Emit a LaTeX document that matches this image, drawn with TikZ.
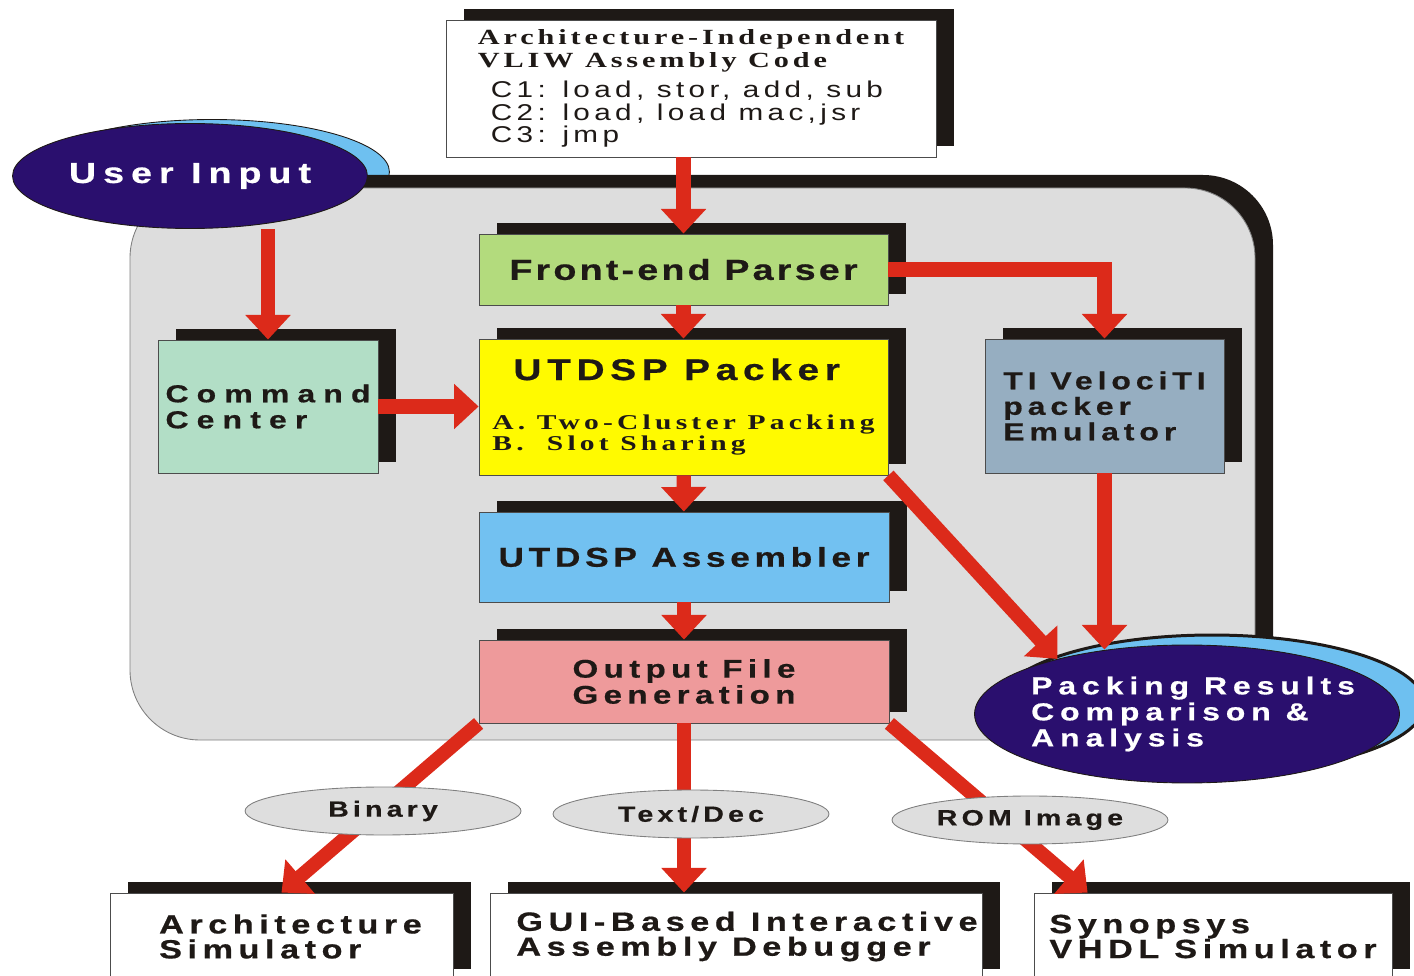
\documentclass[tikz,border=0pt]{standalone}
\usepackage{fontspec}
\usepackage{xcolor}
\usepackage{tikz}
\usetikzlibrary{shapes,arrows.meta,shadows}

\newfontfamily\boxsans[FakeStretch=1.3]{Liberation Sans}
\newfontfamily\boxserif[FakeStretch=1.4]{Liberation Serif}
\newcommand{\widesans}[3]{\boxsans\bfseries\fontsize{#1}{#2}\selectfont\addfontfeatures{LetterSpace=#3,FakeBold=0.6}}
\newcommand{\wideserif}[3]{\boxserif\bfseries\fontsize{#1}{#2}\selectfont\addfontfeatures{LetterSpace=#3}}

\definecolor{arrowred}{RGB}{220,42,26}
\definecolor{inkblack}{RGB}{30,25,22}
\definecolor{areagray}{RGB}{221,221,221}
\definecolor{taggray}{RGB}{222,222,222}
\definecolor{navy}{RGB}{42,15,110}
\definecolor{skyblue}{RGB}{110,192,240}
\definecolor{parsergreen}{RGB}{179,219,125}
\definecolor{packeryellow}{RGB}{255,250,0}
\definecolor{asmblue}{RGB}{114,193,241}
\definecolor{outpink}{RGB}{238,154,155}
\definecolor{cmdmint}{RGB}{178,222,198}
\definecolor{tigray}{RGB}{150,174,193}

\tikzstyle{box} = [rectangle, draw=gray!60!black, line width=0.5pt, inner sep=0pt,
    text=inkblack, align=left,
    general shadow={fill=inkblack, shadow xshift=0.36cm, shadow yshift=0.22cm}]
\tikzstyle{oval} = [ellipse, draw=inkblack, line width=0.5pt, fill=navy, inner sep=0pt]
\tikzstyle{tag} = [ellipse, draw=gray, line width=0.5pt, fill=taggray, text=inkblack,
    minimum width=5.52cm, minimum height=0.96cm, inner sep=0pt, font={\widesans{12.5}{14}{19}}]
\tikzstyle{arrow} = [draw=arrowred, line width=8pt, -{Triangle[width=25pt,length=14pt]}]

\begin{document}
\begin{tikzpicture}[x=0.02cm, y=-0.02cm]
      \useasboundingbox (0,0) rectangle (1414,976);
      \clip (0,0) rectangle (1414,976);

      % blue backings and the tool area
      \coordinate (userC) at (190,176);
      \coordinate (packC) at (1187,714);
      \filldraw[fill=skyblue, draw=inkblack, line width=0.5pt] ([xshift=0.44cm, yshift=0.08cm]userC) ellipse [x radius=3.55cm, y radius=1.05cm];
      \fill[inkblack, rounded corners=1.4cm] (148,175) rectangle (1273,728);
      \filldraw[fill=areagray, draw=gray, line width=0.5pt, rounded corners=1.4cm] (130,188) rectangle (1255,740);
      \filldraw[fill=skyblue, draw=inkblack, line width=1.7pt] ([xshift=0.5cm, yshift=0.2cm]packC) ellipse [x radius=4.25cm, y radius=1.38cm];

      % Place nodes
      \node [box, fill=white, minimum width=9.8cm, minimum height=2.74cm,
        font={\boxsans\mdseries\fontsize{13}{12.2}\selectfont\addfontfeatures{LetterSpace=19}}] (srcCode) at (691,88.5)
        {{\wideserif{12.3}{12.2}{18}Architecture-Independent}\\[0.9pt]
         {\wideserif{12.3}{12.2}{18}VLIW Assembly Code}\\[5pt]
         \hspace*{0.26cm}C1: load, stor, add, sub\\[0.5pt]
         \hspace*{0.26cm}C2: load, load mac,jsr\\[0.5pt]
         \hspace*{0.26cm}C3: jmp};
      \node [oval, minimum width=7.1cm, minimum height=2.1cm, text=white, font={\widesans{16.5}{18}{24}}] (userInput) at (userC) {User Input};

      \node [box, fill=parsergreen, minimum width=8.18cm, minimum height=1.42cm, font={\widesans{16.5}{19}{11}}] (parser) at (683.5,269.5) {Front-end Parser};
      \node [box, fill=packeryellow, minimum width=8.18cm, minimum height=2.72cm, font={\wideserif{12}{12.5}{20}}] (packer) at (683.5,407)
        {\hspace*{0.42cm}{\widesans{17}{12.5}{19}UTDSP Packer}\\[15.4pt]
         A. Two-Cluster Packing\\
         B.\ \ Slot Sharing};
      \node [box, fill=asmblue, minimum width=8.2cm, minimum height=1.8cm, font={\widesans{15.5}{16}{17}}] (assembler) at (684,557) {UTDSP Assembler};
      \node [box, fill=outpink, minimum width=8.2cm, minimum height=1.66cm, font={\widesans{14.5}{14.8}{21}}] (output) at (684,681.5) {Output File\\Generation};

      \node [box, fill=cmdmint, minimum width=4.4cm, minimum height=2.66cm, font={\widesans{14}{14.8}{33}}] (command) at (268,406.5) {Command\\Center};
      \node [box, fill=tigray, minimum width=4.78cm, minimum height=2.68cm, font={\widesans{14}{14.5}{20}}] (velociti) at (1104.5,406) {TI VelociTI\\packer\\Emulator};

      \node [oval, minimum width=8.5cm, minimum height=2.76cm] (packing) at (packC) {};
      \node [text=white, align=left, font={\widesans{14}{14.8}{24}}, xshift=0.12cm] (packingText) at (packing) {Packing Results\\Comparison \&\\Analysis};

      \node [box, fill=white, minimum width=6.86cm, minimum height=1.74cm, font={\widesans{15}{14.2}{21}}] (archSim) at (281.5,936.5) {\hspace*{0.36cm}Architecture\\\hspace*{0.36cm}Simulator};
      \node [box, fill=white, minimum width=9.84cm, minimum height=1.74cm, font={\widesans{15}{14.2}{21}}] (debugger) at (736,936.5) {\hspace*{0.44cm}GUI-Based Interactive\\\hspace*{0.44cm}Assembly Debugger};
      \node [box, fill=white, minimum width=7.16cm, minimum height=1.74cm, font={\widesans{15}{14.2}{21}}] (vhdlSim) at (1213,936.5) {Synopsys\\VHDL Simulator};

      % connectors
      \path [arrow] (parser.north |- srcCode.south) -- (parser.north);
      \path [arrow] (command.north |- userInput.south) -- (command.north);
      \path [arrow] (parser) -- (packer);
      \path [arrow] (parser.east) -| (velociti.north);
      \path [arrow] (command.east) -- (command.east -| packer.west);
      \path [arrow] (packer) -- (assembler);
      \path [arrow] (packer.south east) -- (packing.157);
      \path [arrow] (velociti.south) -- ([yshift=-0.1cm]velociti.south |- packing.north);
      \path [arrow] (assembler) -- (output);

      \path [arrow] (output.south west) -- node [tag, xshift=0.06cm, yshift=-0.06cm] (binaryTag) {Binary} (archSim.north);
      \path [arrow] (output.south) -- node [tag, xshift=0.14cm, yshift=-0.12cm] (textTag) {Text/Dec} (output.south |- debugger.north);
      \path [arrow] (output.south east) -- node [tag, xshift=0.83cm, yshift=-0.24cm] (romTag) {ROM Image} ([xshift=1.08cm]vhdlSim.north west);

  \end{tikzpicture}
\end{document}
